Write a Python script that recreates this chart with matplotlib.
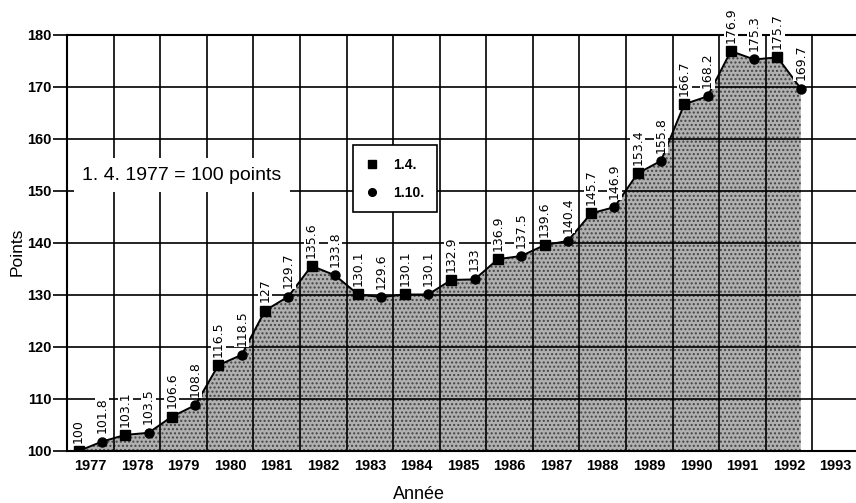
import matplotlib
matplotlib.use('Agg')
import matplotlib.pyplot as plt
import numpy as np

# données de l'indice
years = list(range(1977, 1993))
april_vals = [100, 103.1, 106.6, 116.5, 127, 135.6, 130.1, 130.1, 132.9,
              136.9, 139.6, 145.7, 153.4, 166.7, 176.9, 175.7]
october_vals = [101.8, 103.5, 108.8, 118.5, 129.7, 133.8, 129.6, 130.1, 133,
                137.5, 140.4, 146.9, 155.8, 168.2, 175.3, 169.7]
year_labels = [str(y) for y in range(1977, 1994)]

# 1.4. -> +0.25 , 1.10. -> +0.75
x_apr = np.array(years) + 0.25
x_oct = np.array(years) + 0.75
x_all = np.ravel(np.column_stack([x_apr, x_oct]))
y_all = np.ravel(np.column_stack([april_vals, october_vals]))

plt.rcParams['hatch.linewidth'] = 1.0
fig = plt.figure(figsize=(8.56, 5.03), dpi=100)
ax = fig.add_axes([67/856, 52/503, 792/856, 416/503])

# zone grisée
ax.fill_between(x_all, y_all, 100, facecolor='#b0b0b0', edgecolor='#444444',
                hatch='....', linewidth=0, zorder=1)

ax.plot(x_all, y_all, color='black', lw=1.4, zorder=3)
ax.plot(x_apr, april_vals, 's', color='black', ms=6.5, zorder=4, label='1.4.')
ax.plot(x_oct, october_vals, 'o', color='black', ms=6.5, zorder=4, label='1.10.')

# étiquettes des valeurs
for x, v in zip(x_all, y_all):
    txt = ('%.1f' % v).rstrip('0').rstrip('.')
    ax.annotate(txt, (x, v), xytext=(0, 6), textcoords='offset points',
                rotation=90, ha='center', va='bottom', fontsize=9,
                clip_on=False, zorder=5,
                bbox=dict(facecolor='white', edgecolor='none', pad=0.6))

ax.set_xlim(1977, 1994)
ax.set_ylim(100, 180)

# grille
ax.set_xticks(range(1977, 1995))
ax.set_xticklabels([])
ax.tick_params(axis='x', which='major', length=0)
ax.set_xticks(np.arange(1977, 1994) + 0.5, minor=True)
ax.set_xticklabels(year_labels, minor=True, fontsize=10.5, fontweight='bold',
                   family='Liberation Sans')
ax.tick_params(axis='x', which='minor', length=0, pad=6)

ax.set_yticks(range(100, 181, 10))
ax.set_yticklabels([str(v) for v in range(100, 181, 10)], fontsize=10.5,
                   fontweight='bold', family='Liberation Sans')
ax.tick_params(axis='y', length=10, width=1.2, pad=1)

ax.set_axisbelow('line')
ax.grid(True, which='major', color='black', lw=1.2, zorder=2)
for sp in ['left', 'bottom', 'top']:
    ax.spines[sp].set_linewidth(1.5)
ax.spines['right'].set_visible(False)

fig.text(17/856, 0.5, 'Points', rotation=90, ha='center', va='center',
         fontsize=12.5, family='Liberation Sans')
ax.set_xlabel('Année', fontsize=13, family='Liberation Sans')
ax.xaxis.set_label_coords(0.444, -0.085)

ax.text(0.019, 0.663, '1. 4. 1977 = 100 points', transform=ax.transAxes,
        fontsize=14, family='Liberation Sans', va='center', ha='left',
        bbox=dict(facecolor='white', edgecolor='none', pad=6), zorder=6)

leg = ax.legend(loc='upper left', bbox_to_anchor=(0.352, 0.752), fancybox=False,
                framealpha=1, edgecolor='black', handlelength=1,
                handletextpad=1.0, labelspacing=1.0, borderpad=0.9,
                prop={'weight': 'bold', 'size': 10, 'family': 'Liberation Sans'},
                markerscale=0.85)
leg.get_frame().set_linewidth(1.2)
leg.set_zorder(7)

plt.savefig('out.png', dpi=100)
